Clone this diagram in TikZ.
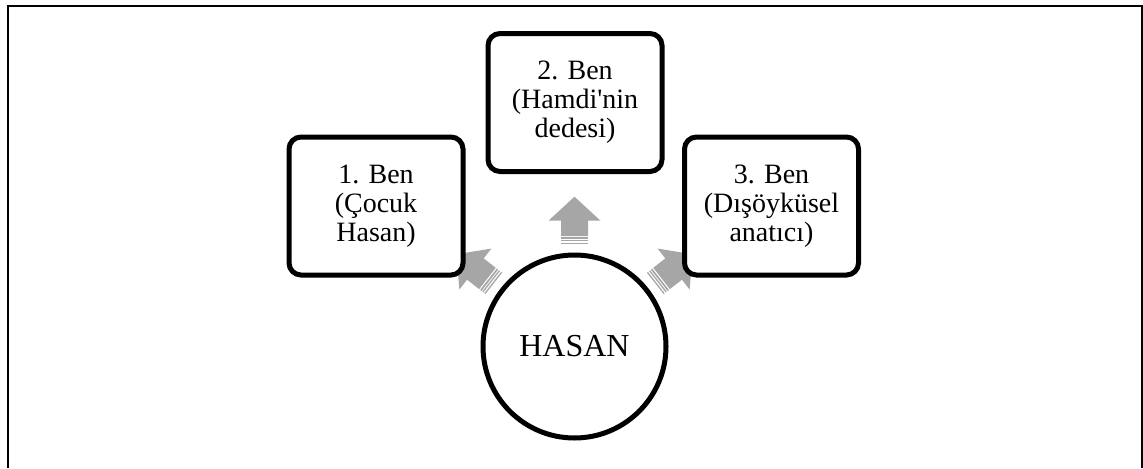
\documentclass[tikz,border=0pt]{standalone}
\usepackage{fontspec}
\setmainfont{Liberation Serif}
\definecolor{arrowgray}{RGB}{166,166,166}
\newcommand\stripedarrow[1]{%
  \begin{scope}[shift={(hasan.center)}, rotate=#1-90]
    \fill[stripe] (-13.5,-102.5) rectangle (13.5,-103.8);
    \fill[stripe] (-13.5,-105.2) rectangle (13.5,-106.5);
    \fill[stripe] (-13.5,-107.5) rectangle (13.5,-109.2);
    \fill[stripe] (-13.5,-110.5) -- (-13.5,-125.8) -- (-26,-125.8) -- (0,-149.8)
      -- (26,-125.8) -- (13.5,-125.8) -- (13.5,-110.5) -- cycle;
  \end{scope}}
\begin{document}
\begin{tikzpicture}[x=0.75pt,y=-0.75pt,
  bench/.style={draw=black, line width=3.75pt, rounded corners=9pt, fill=white,
    minimum width=130.5pt, minimum height=103.5pt, inner sep=0pt, outer sep=0pt,
    align=center, font=\fontsize{21}{21.75}\selectfont},
  core/.style={circle, draw=black, line width=3.75pt, fill=white,
    minimum size=137.25pt, inner sep=0pt, font=\fontsize{24}{28}\selectfont},
  stripe/.style={fill=arrowgray, draw=none},
  frame/.style={draw=black, line width=1.5pt}]
\useasboundingbox (0,0) rectangle (1143,468);
\draw[frame] (7.7,468) -- (7.7,6) -- (1142.3,6) -- (1142.3,468);
\node[core] (hasan) at (574.5,346.5) {HASAN};
\stripedarrow{90}
\stripedarrow{142}
\stripedarrow{38}
\node[bench] (ben1) at (376,206) {1. Ben\\(Çocuk\\Hasan)};
\node[bench] (ben2) at (575,102.5) {2. Ben\\(Hamdi\textquotesingle nin\\dedesi)};
\node[bench] (ben3) at (771.5,206) {3. Ben\\(Dışöyküsel\\anatıcı)};
\end{tikzpicture}
\end{document}
